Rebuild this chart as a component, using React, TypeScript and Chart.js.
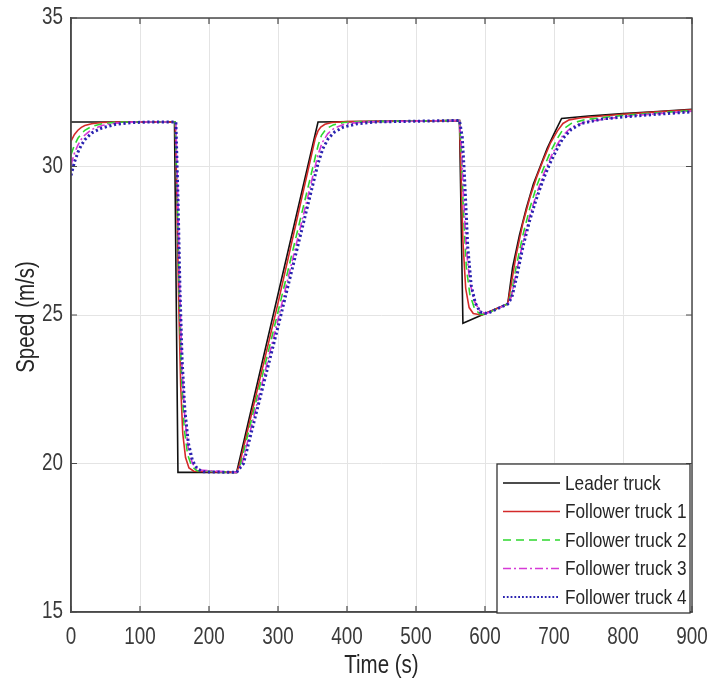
import React, { useEffect, useRef } from 'react';
import { Chart, registerables } from 'chart.js';

Chart.register(...registerables);

// ---- data ----
const xTickValues = [0, 100, 200, 300, 400, 500, 600, 700, 800, 900];
const yTickValues = [15, 20, 25, 30, 35];
const xTitle = 'Time (s)';
const yTitle = 'Speed (m/s)';
const seriesNames = ['Leader truck', 'Follower truck 1', 'Follower truck 2', 'Follower truck 3', 'Follower truck 4'];

const leaderPts = [
  [0, 31.5], [150, 31.5], [155, 19.7], [240, 19.7], [358, 31.5], [450, 31.52], [563, 31.55],
  [568, 24.72], [633, 25.38], [640, 26.6], [650, 27.7], [660, 28.6], [670, 29.4], [680, 30.0],
  [690, 30.6], [700, 31.1], [711, 31.62], [750, 31.7], [800, 31.78], [850, 31.85], [900, 31.93],
];

const follower1Pts = [
  [0, 30.85], [5, 31.08], [10, 31.22], [15, 31.32], [20, 31.38], [30, 31.44], [45, 31.48], [70, 31.5],
  [151, 31.5], [153, 29.5], [156, 25.5], [159, 22.6], [162, 21.0], [166, 20.2], [171, 19.85], [178, 19.74],
  [240, 19.7], [244, 19.95], [300, 25.4], [354, 30.95], [358, 31.2], [362, 31.33], [368, 31.42], [378, 31.48],
  [400, 31.51], [563, 31.55], [565, 30.0], [568, 27.5], [572, 25.9], [577, 25.25], [583, 25.05], [595, 25.0],
  [633, 25.37], [637, 25.9], [645, 27.0], [655, 28.1], [665, 28.95], [675, 29.65], [685, 30.25], [695, 30.8],
  [705, 31.2], [713, 31.45], [722, 31.57], [740, 31.64], [800, 31.76], [850, 31.84], [900, 31.91],
];

const follower2Pts = [
  [0, 30.4], [5, 30.72], [10, 30.95], [15, 31.1], [20, 31.22], [30, 31.35], [45, 31.44], [65, 31.49], [90, 31.5],
  [151, 31.5], [154, 29.0], [157, 25.5], [160, 23.0], [164, 21.2], [169, 20.3], [175, 19.9], [183, 19.75],
  [240, 19.7], [246, 20.0], [300, 25.1], [358, 30.7], [363, 31.05], [370, 31.27], [380, 31.4], [395, 31.48],
  [420, 31.51], [563, 31.55], [566, 30.3], [569, 28.3], [573, 26.6], [578, 25.7], [585, 25.2], [593, 25.03],
  [600, 25.02], [633, 25.37], [638, 25.7], [645, 26.6], [655, 27.7], [665, 28.6], [675, 29.35], [685, 29.95],
  [695, 30.5], [705, 30.95], [713, 31.25], [725, 31.45], [745, 31.58], [800, 31.72], [850, 31.81], [900, 31.88],
];

const follower3Pts = [
  [0, 30.05], [5, 30.45], [10, 30.72], [15, 30.92], [20, 31.06], [30, 31.25], [45, 31.38], [65, 31.46], [95, 31.5],
  [152, 31.5], [155, 28.8], [158, 25.5], [161, 23.2], [165, 21.5], [170, 20.5], [176, 20.0], [184, 19.78],
  [240, 19.7], [248, 20.0], [300, 24.85], [358, 30.4], [364, 30.8], [372, 31.1], [382, 31.3], [398, 31.44],
  [425, 31.5], [563, 31.55], [566, 30.6], [569, 28.9], [573, 27.2], [578, 26.1], [585, 25.45], [593, 25.12],
  [602, 25.05], [633, 25.37], [638, 25.6], [645, 26.4], [655, 27.45], [665, 28.35], [675, 29.1], [685, 29.75],
  [695, 30.3], [705, 30.75], [713, 31.05], [725, 31.32], [745, 31.5], [800, 31.68], [850, 31.78], [900, 31.86],
];

const follower4Pts = [
  [0, 29.7], [5, 30.15], [10, 30.48], [15, 30.72], [20, 30.9], [30, 31.13], [45, 31.3], [65, 31.42], [90, 31.48],
  [115, 31.5], [152, 31.5], [155, 29.0], [158, 25.8], [161, 23.5], [165, 21.8], [170, 20.7], [176, 20.1],
  [183, 19.82], [192, 19.72], [240, 19.7], [250, 20.0], [300, 24.6], [358, 30.1], [365, 30.6], [373, 30.95],
  [382, 31.16], [395, 31.33], [415, 31.44], [440, 31.5], [563, 31.55], [567, 31.0], [570, 29.8], [575, 27.3],
  [580, 26.0], [586, 25.4], [593, 25.1], [603, 25.05], [633, 25.37], [639, 25.6], [646, 26.3], [655, 27.3],
  [665, 28.2], [675, 28.95], [685, 29.6], [695, 30.15], [705, 30.62], [713, 30.95], [725, 31.25], [740, 31.45],
  [770, 31.6], [800, 31.67], [850, 31.76], [900, 31.84],
];

// ---- styles ----
const FONT = '"Liberation Sans", Arial, sans-serif';
const NARROW = 0.82; // horizontal compression of the text, as in the reference
const seriesStyles = [
  { color: '#111111', width: 1.6, dash: [] as number[] },
  { color: '#d42a2a', width: 1.6, dash: [] as number[] },
  { color: '#2ed82e', width: 1.6, dash: [8, 5] },
  { color: '#d63ad6', width: 1.6, dash: [8, 3, 2, 3] },
  { color: '#2a22b0', width: 3, dash: [2.2, 2.6] },
];

function drawText(ctx: CanvasRenderingContext2D, text: string, x: number, y: number, size: number,
  align: CanvasTextAlign, color: string, rot = 0) {
  ctx.save();
  ctx.translate(x, y);
  if (rot) ctx.rotate(rot);
  ctx.scale(NARROW, 1);
  ctx.font = size + 'px ' + FONT;
  ctx.fillStyle = color;
  ctx.textAlign = align;
  ctx.textBaseline = 'middle';
  ctx.fillText(text, 0, 0);
  ctx.restore();
}

export default function App() {
  const ref = useRef<HTMLCanvasElement>(null);

  useEffect(() => {
    if (!ref.current) return;
    const allPts = [leaderPts, follower1Pts, follower2Pts, follower3Pts, follower4Pts];

    const framePlugin = {
      id: 'frameAndLegend',
      afterDatasetsDraw(chart: any) {
        const ctx = chart.ctx as CanvasRenderingContext2D;
        const ca = chart.chartArea;
        const xs = chart.scales.x;
        const ys = chart.scales.y;
        ctx.save();
        // frame
        ctx.strokeStyle = '#4a4a4a';
        ctx.lineWidth = 1.5;
        ctx.setLineDash([]);
        ctx.strokeRect(ca.left, ca.top, ca.right - ca.left, ca.bottom - ca.top);
        // inward ticks
        ctx.lineWidth = 1.2;
        const tl = 6;
        xTickValues.forEach((v) => {
          const px = xs.getPixelForValue(v);
          ctx.beginPath();
          ctx.moveTo(px, ca.bottom); ctx.lineTo(px, ca.bottom - tl);
          ctx.moveTo(px, ca.top); ctx.lineTo(px, ca.top + tl);
          ctx.stroke();
        });
        yTickValues.forEach((v) => {
          const py = ys.getPixelForValue(v);
          ctx.beginPath();
          ctx.moveTo(ca.left, py); ctx.lineTo(ca.left + tl, py);
          ctx.moveTo(ca.right, py); ctx.lineTo(ca.right - tl, py);
          ctx.stroke();
        });
        // tick labels and titles
        xTickValues.forEach((v) => {
          drawText(ctx, String(v), xs.getPixelForValue(v), ca.bottom + 26, 23, 'center', '#3a3a3a');
        });
        yTickValues.forEach((v) => {
          drawText(ctx, String(v), ca.left - 8, ys.getPixelForValue(v), 23, 'right', '#3a3a3a');
        });
        drawText(ctx, xTitle, (ca.left + ca.right) / 2, ca.bottom + 54, 25, 'center', '#262626');
        drawText(ctx, yTitle, 27, (ca.top + ca.bottom) / 2 + 2, 25, 'center', '#262626', -Math.PI / 2);
        // legend
        const w = 193, h = 149;
        const lx = ca.right - w - 2;
        const ly = ca.bottom - h + 1;
        ctx.fillStyle = '#ffffff';
        ctx.fillRect(lx, ly, w, h);
        ctx.strokeStyle = '#333333';
        ctx.lineWidth = 1.3;
        ctx.strokeRect(lx, ly, w, h);
        seriesNames.forEach((name, i) => {
          const ry = ly + 19 + i * 28.5;
          const st = seriesStyles[i];
          ctx.strokeStyle = st.color;
          ctx.lineWidth = i === 4 ? 2.2 : st.width;
          ctx.setLineDash(i === 4 ? [1.8, 2] : st.dash);
          ctx.beginPath();
          ctx.moveTo(lx + 6, ry);
          ctx.lineTo(lx + 63, ry);
          ctx.stroke();
          ctx.setLineDash([]);
          drawText(ctx, name, lx + 68, ry + 1, 21, 'left', '#262626');
        });
        ctx.restore();
      },
    };

    const chart = new Chart(ref.current, {
      type: 'line',
      data: {
        datasets: allPts.map((pts, i) => ({
          label: seriesNames[i],
          data: pts.map(([x, y]) => ({ x, y })),
          borderColor: seriesStyles[i].color,
          borderWidth: seriesStyles[i].width,
          borderDash: seriesStyles[i].dash,
          pointRadius: 0,
          fill: false,
          tension: 0,
          order: 4 - i,
        })),
      },
      options: {
        responsive: false,
        animation: false,
        devicePixelRatio: 1,
        layout: { padding: { top: 18, right: 18, left: 0, bottom: 0 } },
        plugins: { legend: { display: false }, tooltip: { enabled: false } },
        scales: {
          x: {
            type: 'linear',
            min: 0,
            max: 900,
            afterBuildTicks: (s: any) => { s.ticks = xTickValues.map((v) => ({ value: v })); },
            afterFit: (s: any) => { s.height = 75; },
            ticks: { display: false },
            grid: { color: '#e4e4e4', lineWidth: 1, drawTicks: false },
            border: { display: true, color: '#4a4a4a', width: 1.5 },
            title: { display: false },
          },
          y: {
            type: 'linear',
            min: 15,
            max: 35,
            afterBuildTicks: (s: any) => { s.ticks = yTickValues.map((v) => ({ value: v })); },
            afterFit: (s: any) => { s.width = 71; },
            ticks: { display: false },
            grid: { color: '#e4e4e4', lineWidth: 1, drawTicks: false },
            border: { display: true, color: '#4a4a4a', width: 1.5 },
            title: { display: false },
          },
        },
      },
      plugins: [framePlugin],
    });
    return () => chart.destroy();
  }, []);

  return (
    <div style={{ position: 'absolute', left: 0, top: 0, width: 710, height: 687, background: '#ffffff' }}>
      <canvas ref={ref} width={710} height={687} />
    </div>
  );
}
